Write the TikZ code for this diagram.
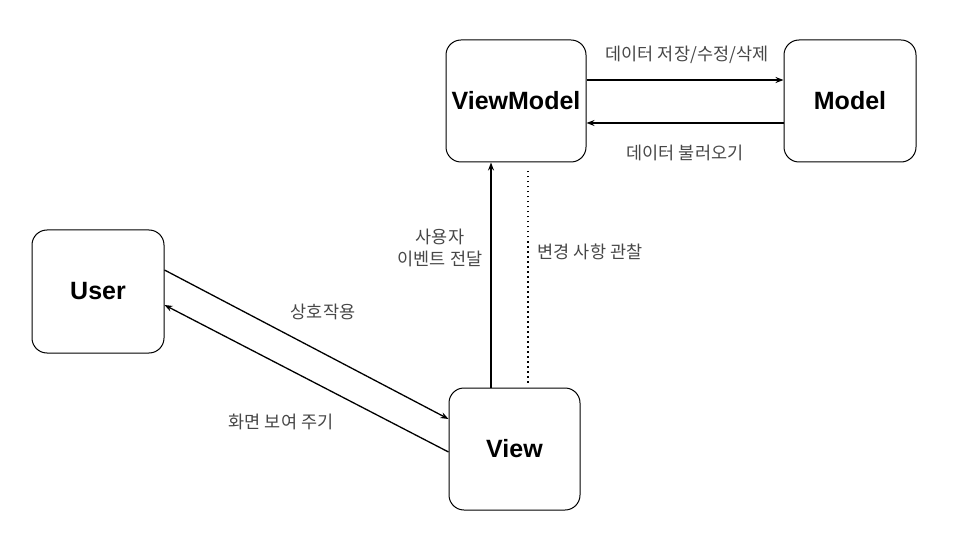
\documentclass[tikz,border=0pt]{standalone}
\usepackage{fontspec}
\setmainfont{Liberation Sans}
\newfontfamily\kofont{Noto Sans CJK KR}
\usetikzlibrary{arrows.meta}

\begin{document}
\begin{tikzpicture}[x=1pt, y=-1pt,
    box/.style={draw, line width=1pt, rounded corners=15pt, minimum height=122pt, font=\fontsize{25}{29}\selectfont\bfseries},
    lbl/.style={text=black!72, font=\kofont\fontsize{17.5}{22}\selectfont, align=center, inner sep=0pt},
    flow/.style={line width=2pt, -{Stealth[length=8pt,width=6pt]}},
    talk/.style={line width=1.3pt, -{Stealth[length=8pt,width=6pt]}}]

\useasboundingbox (0,0) rectangle (955,545);

\node[box, minimum width=140pt] (vm) at (516,101) {ViewModel};
\node[box, minimum width=132pt] (model) at (850,101) {Model};
\node[box, minimum width=132pt, minimum height=123pt] (user) at (98,291.5) {User};
\node[box, minimum width=131pt] (view) at (514.5,449) {View};

\draw[flow] ([yshift=21pt]vm.east) -- ([yshift=21pt]vm.east -| model.west);
\draw[flow] ([yshift=-22pt]model.west) -- ([yshift=-22pt]model.west -| vm.east);
\draw[flow] ([xshift=-23.5pt]view.north) -- ([xshift=-23.5pt]view.north |- vm.south);
\draw[line width=1.6pt, dash pattern=on 1.6pt off 3.4pt] ([xshift=13.5pt,yshift=5pt]view.north) -- ([xshift=13.5pt,yshift=-8pt]view.north |- vm.south);
\draw[talk] ([yshift=21.5pt]user.east) -- ([yshift=30pt]view.west);
\draw[talk] ([yshift=-3pt]view.west) -- ([yshift=-13.5pt]user.east);

\node[lbl] (save) at (687,55) {데이터 저장/수정/삭제};
\node[lbl] (load) at (685,153) {데이터 불러오기};
\node[lbl] (event) at (440,248) {사용자\\이벤트 전달};
\node[lbl] (watch) at (590,252) {변경 사항 관찰};
\node[lbl] (act) at (323,312) {상호작용};
\node[lbl] (show) at (281,422) {화면 보여 주기};
\end{tikzpicture}
\end{document}
